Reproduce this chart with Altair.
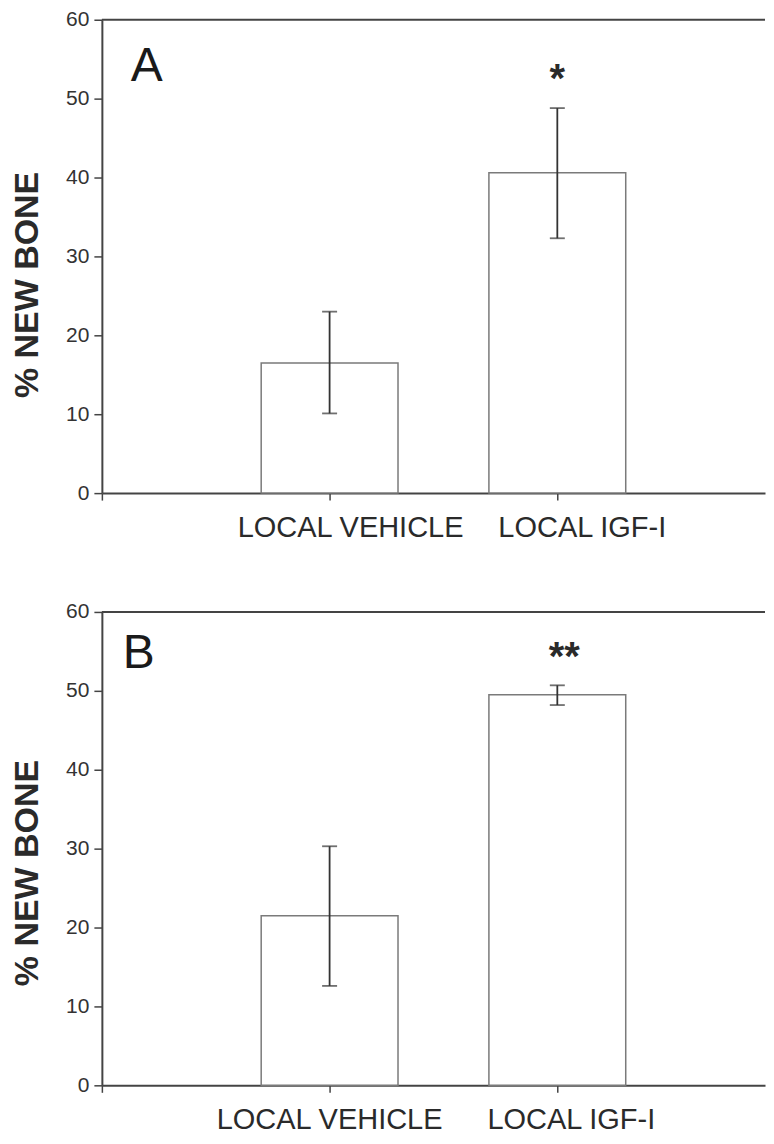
import altair as alt
import pandas as pd

# ---- data ----
categories = ["LOCAL VEHICLE", "LOCAL IGF-I"]
cat_pos = [1, 2]

a_mean = [16.5, 40.6]
a_low = [10.1, 32.3]
a_high = [23.0, 48.8]
a_sig = ["", "*"]

b_mean = [21.5, 49.5]
b_low = [12.6, 48.2]
b_high = [30.3, 50.7]
b_sig = ["", "**"]

y_ticks = [0, 10, 20, 30, 40, 50, 60]
x_ticks = [0, 1, 2]
x_domain = [0, 2.912]
panel_letters = ["A", "B"]

FONT = "Liberation Sans"
AXIS_COL = "#444444"
TEXT_COL = "#2a2a2a"
H = 474
W = 664


def panel(mean, low, high, sig, letter, label_dx, sig_dx, sig_dy, letter_xy, title_y):
    df = pd.DataFrame({"pos": cat_pos, "cat": categories, "mean": mean,
                       "low": low, "high": high, "sig": sig})
    base = alt.Chart(df)
    xscale = alt.Scale(domain=x_domain, nice=False, zero=False, padding=0)
    xenc = alt.X("pos:Q", scale=xscale,
                 axis=alt.Axis(values=x_ticks, title=None, grid=False, labels=False,
                               tickSize=7, tickWidth=1.5, tickColor=AXIS_COL,
                               domainColor=AXIS_COL, domainWidth=2))
    yscale = alt.Scale(domain=[0, 60], nice=False, padding=0)
    yenc = alt.Y("mean:Q", scale=yscale,
                 axis=alt.Axis(values=y_ticks, grid=False, title="% NEW BONE",
                               titleFont=FONT, titleFontSize=34, titleFontWeight="bold",
                               titleColor=TEXT_COL, titleAngle=270, titleAlign="center",
                               titleBaseline="middle", titleX=-74, titleY=title_y,
                               labelFont=FONT, labelFontSize=21, labelColor="#333333",
                               labelPadding=5, tickSize=8, tickWidth=1.5,
                               tickColor=AXIS_COL, domainColor=AXIS_COL, domainWidth=2))
    bars = base.mark_bar(size=137, fill="white", stroke="#7a7a7a", strokeWidth=1.5).encode(
        x=xenc, y=yenc)
    err = base.mark_rule(color="#333333", strokeWidth=1.8).encode(
        x=alt.X("pos:Q", scale=xscale), y=alt.Y("low:Q", scale=yscale), y2="high:Q")
    cap_lo = base.mark_tick(color="#333333", thickness=1.8, size=15, orient="horizontal").encode(
        x=alt.X("pos:Q", scale=xscale), y=alt.Y("low:Q", scale=yscale))
    cap_hi = base.mark_tick(color="#333333", thickness=1.8, size=15, orient="horizontal").encode(
        x=alt.X("pos:Q", scale=xscale), y=alt.Y("high:Q", scale=yscale))
    stars = base.mark_text(font=FONT, fontSize=40, fontWeight="bold", color=TEXT_COL,
                           baseline="alphabetic", align="center", dy=sig_dy, dx=sig_dx).encode(
        x=alt.X("pos:Q", scale=xscale), y=alt.Y("high:Q", scale=yscale), text="sig:N")
    cat_labels = []
    for i, c in enumerate(categories):
        cat_labels.append(
            base.transform_filter(alt.datum.cat == c).mark_text(
                font=FONT, fontSize=29, color=TEXT_COL, baseline="alphabetic",
                align="center", dx=label_dx[i]).encode(
                x=alt.X("pos:Q", scale=xscale), y=alt.value(H + 44), text="cat:N"))
    top_rule = alt.Chart(pd.DataFrame({"v": [60]})).mark_rule(
        color=AXIS_COL, strokeWidth=2).encode(y=alt.Y("v:Q", scale=yscale))
    letter_mark = alt.Chart(pd.DataFrame({"t": [letter]})).mark_text(
        font=FONT, fontSize=48, color="#1a1a1a", align="left", baseline="alphabetic").encode(
        x=alt.value(letter_xy[0]), y=alt.value(letter_xy[1]), text="t:N")
    return alt.layer(top_rule, bars, err, cap_lo, cap_hi, stars, *cat_labels,
                     letter_mark).properties(width=W, height=H)


top = panel(a_mean, a_low, a_high, a_sig, panel_letters[0], (21, 25), 0, -16, (29, 61), 265)
bottom = panel(b_mean, b_low, b_high, b_sig, panel_letters[1], (0, 14), 7, -15, (21, 56), 261)

chart = alt.vconcat(top, bottom, spacing=58).properties(
    padding={"left": 3, "top": 0, "right": 0, "bottom": 0},
    background="white"
).configure_view(stroke=None)

chart.save("out.html", embed_options={"renderer": "svg", "actions": False})
